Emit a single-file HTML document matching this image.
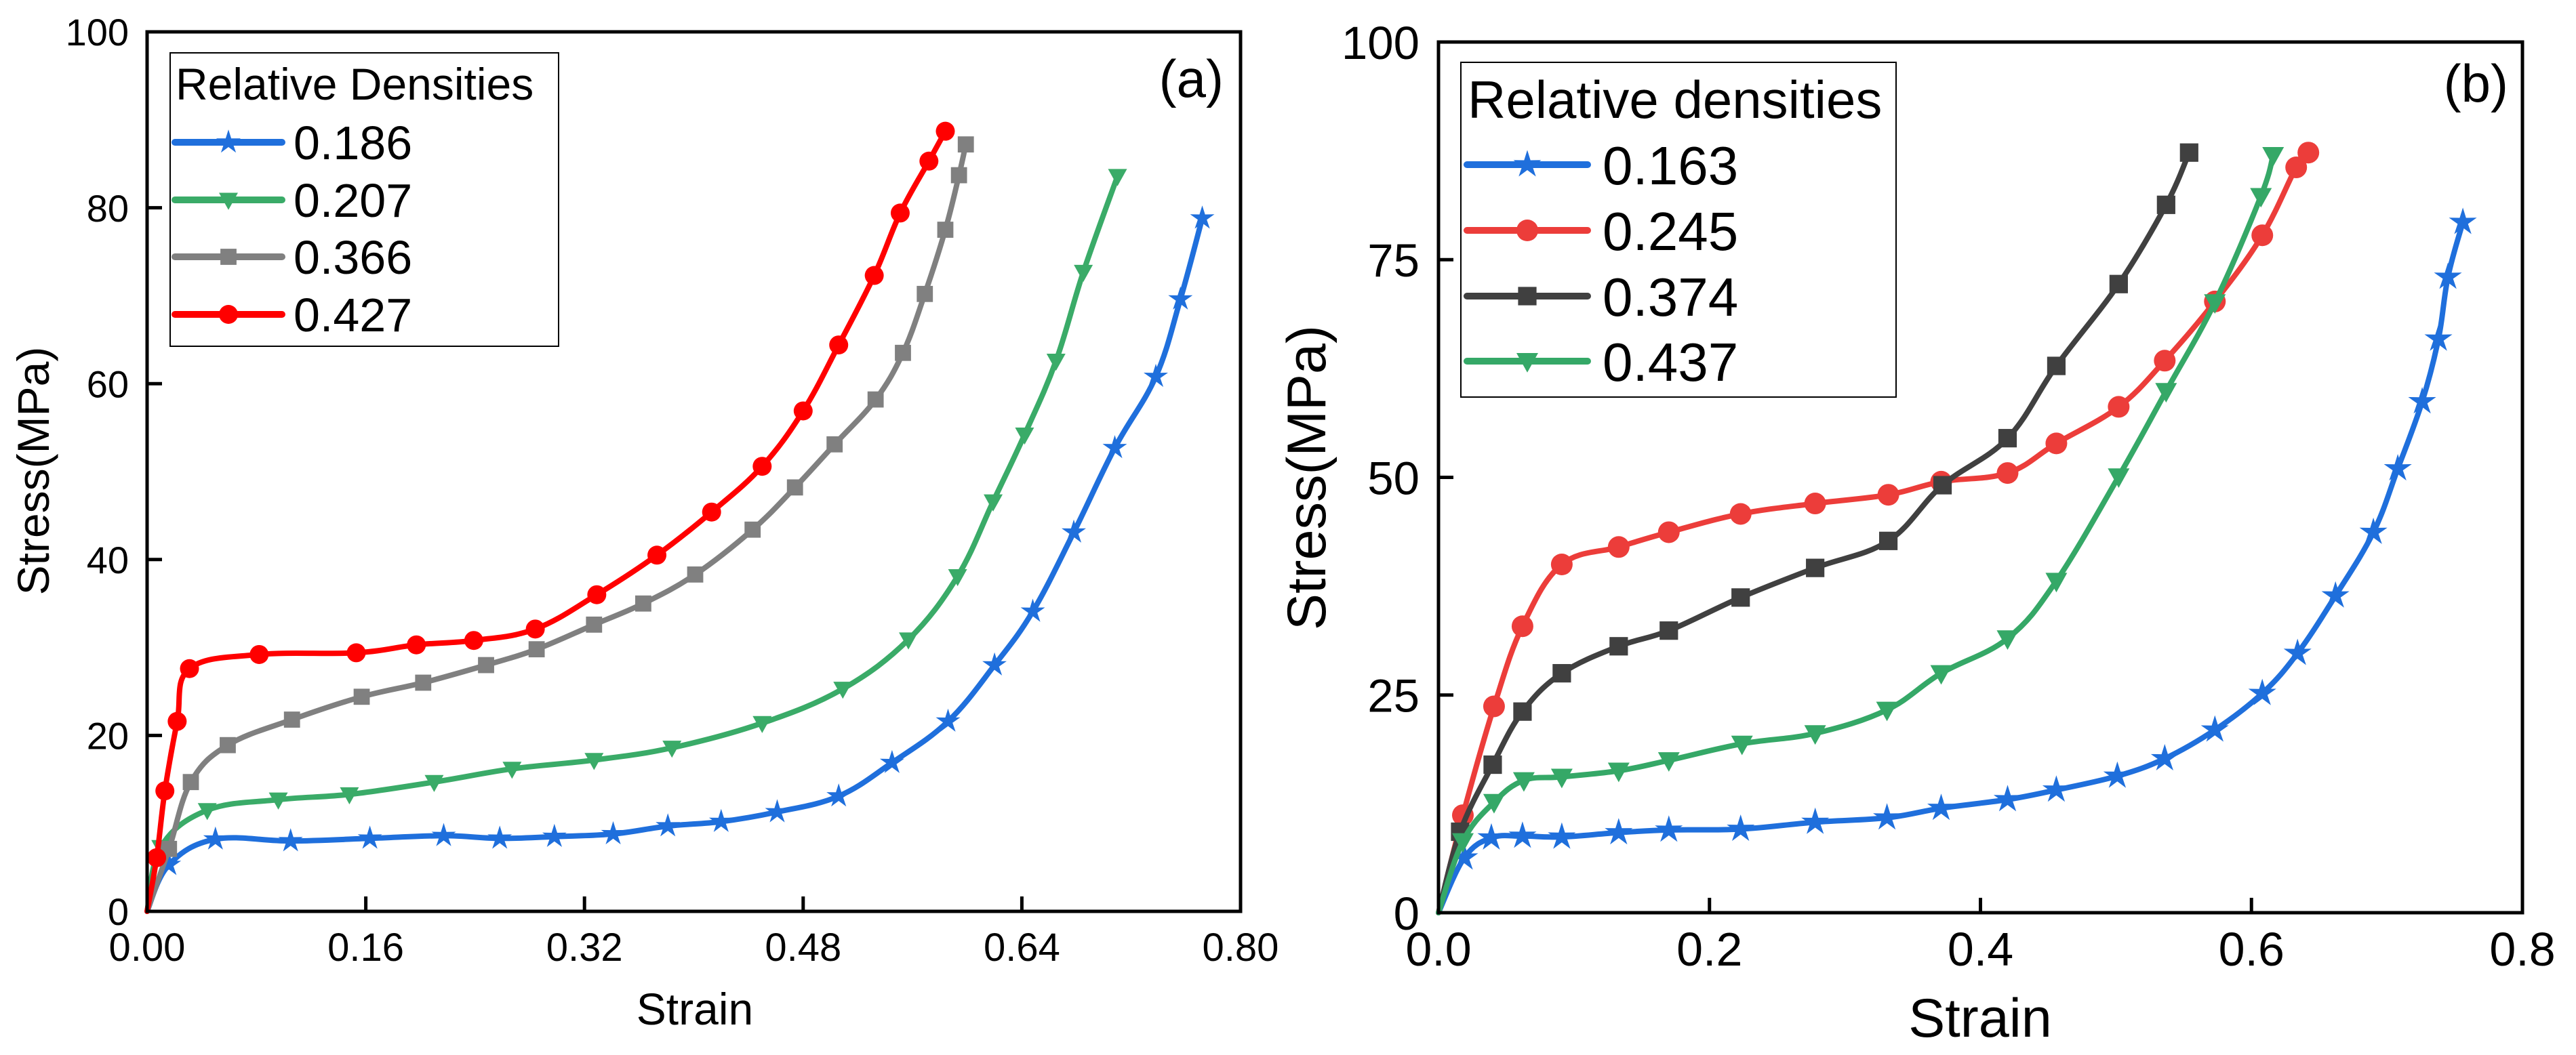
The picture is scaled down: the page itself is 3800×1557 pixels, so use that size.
<!DOCTYPE html>
<html><head><meta charset="utf-8"><style>
html,body{margin:0;padding:0;background:#fff;}
svg{display:block;font-family:"Liberation Sans",Arial,sans-serif;}
</style></head><body>
<svg id="fig" width="3800" height="1557" viewBox="0 0 3800 1557" xmlns="http://www.w3.org/2000/svg"></svg>
<script>
// ---------- Panel (a) data ----------
const aXTicks = [0, 0.16, 0.32, 0.48, 0.64, 0.80];
const aXTickLabels = ["0.00","0.16","0.32","0.48","0.64","0.80"];
const aYTicks = [0,20,40,60,80,100];
const aYTickLabels = ["0","20","40","60","80","100"];
const aSeriesNames = ["0.186","0.207","0.366","0.427"];
const a186 = [[0,0],[0.016,5.3],[0.050,8.2],[0.105,8.0],[0.163,8.3],[0.217,8.6],[0.258,8.3],[0.298,8.5],[0.341,8.8],[0.381,9.7],[0.420,10.2],[0.461,11.3],[0.506,13.1],[0.545,16.9],[0.586,21.6],[0.620,28.0],[0.648,34.1],[0.678,43.1],[0.708,52.7],[0.738,60.8],[0.756,69.6],[0.772,78.8]];
const a207 = [[0,0],[0.010,7.3],[0.044,11.5],[0.096,12.7],[0.148,13.3],[0.210,14.7],[0.267,16.2],[0.327,17.2],[0.384,18.6],[0.450,21.4],[0.509,25.3],[0.557,30.9],[0.593,38.1],[0.619,46.6],[0.642,54.2],[0.665,62.6],[0.685,72.7],[0.710,83.6]];
const a366 = [[0,0],[0.016,7.1],[0.032,14.7],[0.059,18.9],[0.106,21.8],[0.157,24.4],[0.202,26.0],[0.248,28.0],[0.285,29.8],[0.327,32.6],[0.363,35.0],[0.401,38.3],[0.443,43.4],[0.474,48.2],[0.503,53.1],[0.533,58.2],[0.553,63.5],[0.569,70.2],[0.584,77.5],[0.594,83.7],[0.599,87.2]];
const a427 = [[0,0],[0.007,6.1],[0.013,13.7],[0.022,21.6],[0.031,27.6],[0.082,29.2],[0.153,29.4],[0.197,30.3],[0.239,30.8],[0.284,32.1],[0.329,36.0],[0.373,40.5],[0.413,45.4],[0.450,50.6],[0.480,56.9],[0.506,64.4],[0.532,72.3],[0.551,79.4],[0.572,85.3],[0.584,88.7]];
// ---------- Panel (b) data ----------
const bXTicks = [0,0.2,0.4,0.6,0.8];
const bXTickLabels = ["0.0","0.2","0.4","0.6","0.8"];
const bYTicks = [0,25,50,75,100];
const bYTickLabels = ["0","25","50","75","100"];
const bSeriesNames = ["0.163","0.245","0.374","0.437"];
const b163 = [[0,0],[0.019,6.3],[0.039,8.6],[0.062,8.8],[0.091,8.7],[0.133,9.2],[0.170,9.5],[0.223,9.6],[0.278,10.4],[0.331,10.9],[0.371,12.0],[0.420,13.0],[0.456,14.1],[0.501,15.7],[0.536,17.7],[0.573,21.0],[0.608,25.2],[0.634,29.8],[0.662,36.4],[0.690,43.7],[0.708,51.0],[0.726,58.7],[0.738,65.9],[0.745,73.0],[0.756,79.3]];
const b245 = [[0,0],[0.018,11.2],[0.041,23.7],[0.062,32.9],[0.091,40.0],[0.133,42.0],[0.170,43.7],[0.223,45.8],[0.278,47.0],[0.332,48.0],[0.371,49.5],[0.420,50.5],[0.456,53.9],[0.502,58.1],[0.536,63.4],[0.573,70.2],[0.608,77.8],[0.633,85.6],[0.642,87.3]];
const b374 = [[0,0],[0.016,9.3],[0.040,17.0],[0.062,23.1],[0.091,27.5],[0.133,30.6],[0.170,32.4],[0.223,36.2],[0.278,39.6],[0.332,42.7],[0.372,49.1],[0.420,54.5],[0.456,62.8],[0.502,72.2],[0.537,81.3],[0.554,87.3]];
const b437 = [[0,0],[0.018,8.2],[0.041,12.7],[0.063,15.2],[0.091,15.6],[0.133,16.3],[0.170,17.5],[0.224,19.4],[0.278,20.6],[0.331,23.3],[0.371,27.5],[0.420,31.5],[0.456,38.1],[0.502,50.1],[0.537,59.9],[0.573,70.1],[0.607,82.3],[0.616,87.0]];

const NS="http://www.w3.org/2000/svg";
const svg=document.getElementById('fig');
function mk(tag,attrs,parent){const e=document.createElementNS(NS,tag);for(const k in attrs)e.setAttribute(k,attrs[k]);(parent||svg).appendChild(e);return e;}

function marker(g,type,cx,cy,r,color){
  let e;
  if(type==='circle'){e=mk('circle',{cx:cx,cy:cy,r:r,fill:color},g);}
  else if(type==='square'){e=mk('rect',{x:cx-r*0.85,y:cy-r*0.85,width:r*1.7,height:r*1.7,fill:color},g);}
  else if(type==='tri'){e=mk('polygon',{points:`${cx-r},${cy-r*0.75} ${cx+r},${cy-r*0.75} ${cx},${cy+r*1.05}`,fill:color},g);}
  else {let p=[];for(let i=0;i<10;i++){const ang=-Math.PI/2+i*Math.PI/5;const rr=i%2?r*0.5:r*1.35;p.push((cx+rr*Math.cos(ang)).toFixed(1)+','+(cy+rr*Math.sin(ang)).toFixed(1));}
    e=mk('polygon',{points:p.join(' '),fill:color},g);}
  
  
  return e;
}

function smoothPath(pts){
  let d='M'+pts[0][0].toFixed(1)+','+pts[0][1].toFixed(1);
  for(let i=0;i<pts.length-1;i++){
    const p0=pts[Math.max(i-1,0)],p1=pts[i],p2=pts[i+1],p3=pts[Math.min(i+2,pts.length-1)];
    const t=0.18;
    const c1=[p1[0]+(p2[0]-p0[0])*t,p1[1]+(p2[1]-p0[1])*t];
    const c2=[p2[0]-(p3[0]-p1[0])*t,p2[1]-(p3[1]-p1[1])*t];
    d+=` C${c1[0].toFixed(1)},${c1[1].toFixed(1)} ${c2[0].toFixed(1)},${c2[1].toFixed(1)} ${p2[0].toFixed(1)},${p2[1].toFixed(1)}`;
  }
  return d;
}

function drawPanel(cfg){
  const {x0,x1,y0,y1,xmax,ymax}=cfg;
  const sx=v=>x0+(v/xmax)*(x1-x0);
  const sy=v=>y0-(v/ymax)*(y0-y1);
  const g=mk('g',{});
  
  
  cfg.series.forEach((s,si)=>{
    const sg=mk('g',{},g);
    
    
    const pts=s.data.map(p=>[sx(p[0]),sy(p[1])]);
    const path=mk('path',{d:smoothPath(pts),fill:'none',stroke:s.color,'stroke-width':cfg.lw,'stroke-linejoin':'round','stroke-linecap':'round'},sg);
    
    
    s.data.forEach((p,i)=>{if(i>0)marker(sg,s.mk,sx(p[0]),sy(p[1]),cfg.mr,s.color);});
  });
  cfg.xTicks.forEach((t,i)=>{
    const x=sx(t);
    const tk=mk('line',{x1:x,y1:y0,x2:x,y2:y0-cfg.tl,stroke:'#000','stroke-width':5},g);
    
    
    const tx=mk('text',{x:x,y:cfg.xlabY,'font-size':cfg.tfs,'text-anchor':'middle'},g);
    tx.textContent=cfg.xLabels[i];
    
    
  });
  cfg.yTicks.forEach((t,i)=>{
    const y=sy(t);
    const tk=mk('line',{x1:x0,y1:y,x2:x0+cfg.tl,y2:y,stroke:'#000','stroke-width':5},g);
    
    
    const tx=mk('text',{x:cfg.ylabX,y:y+cfg.yfs*0.36,'font-size':cfg.yfs,'text-anchor':'end'},g);
    tx.textContent=cfg.yLabels[i];
    
    
  });
  const box=mk('rect',{x:x0,y:y1,width:x1-x0,height:y0-y1,fill:'none',stroke:'#000','stroke-width':5},g);
  
  
  const xt=mk('text',{x:cfg.xtX,y:cfg.xtY,'font-size':cfg.afs,'text-anchor':'middle'},g);
  xt.textContent='Strain';
  
  
  const yt=mk('text',{x:0,y:0,'font-size':cfg.afs,'text-anchor':'middle',transform:`translate(${cfg.ytX},${cfg.ytY}) rotate(-90)`},g);
  yt.textContent='Stress(MPa)';
  
  
  const pl=mk('text',{x:cfg.plX,y:cfg.plY,'font-size':cfg.plfs,'text-anchor':'end'},g);
  pl.textContent=cfg.panel;
  
  
  const L=cfg.leg;
  const lg=mk('g',{},g);
  
  
  const lb=mk('rect',{x:L.x,y:L.y,width:L.w,height:L.h,fill:'#fff',stroke:'#000','stroke-width':2},lg);
  
  
  const lt=mk('text',{x:L.x+L.tpad,y:L.ty,'font-size':L.tfs},lg);
  lt.textContent=L.title;
  
  
  cfg.series.forEach((s,si)=>{
    const y=L.rows[si];
    const eg=mk('g',{},lg);
    
    
    mk('line',{x1:L.lx0,y1:y,x2:L.lx1,y2:y,stroke:s.color,'stroke-width':cfg.lw+2,'stroke-linecap':'round'},eg);
    marker(eg,s.mk,(L.lx0+L.lx1)/2,y,cfg.mr,s.color);
    const t=mk('text',{x:L.tx,y:y+L.efs*0.36,'font-size':L.efs},eg);
    t.textContent=cfg.names[si];
  });
}

drawPanel({name:'panel-a',panel:'(a)',x0:217,x1:1830,y0:1345,y1:47,xmax:0.8,ymax:100,
  lw:8,mr:14,tl:22,tfs:58,yfs:56,xlabY:1418,ylabX:190,
  xTicks:aXTicks,xLabels:aXTickLabels,yTicks:aYTicks,yLabels:aYTickLabels,names:aSeriesNames,
  series:[{data:a186,color:'#1f6fdc',mk:'star'},{data:a207,color:'#3aab68',mk:'tri'},{data:a366,color:'#808080',mk:'square'},{data:a427,color:'#ff0000',mk:'circle'}],
  afs:66,xtX:1025,xtY:1512,ytX:72,ytY:695,plX:1805,plY:143,plfs:78,
  leg:{x:251,y:78,w:573,h:433,title:'Relative Densities',tpad:8,ty:147,tfs:66,rows:[210,295,379,464],lx0:258,lx1:416,tx:433,efs:70}});

drawPanel({name:'panel-b',panel:'(b)',x0:2122,x1:3721,y0:1347,y1:62,xmax:0.8,ymax:100,
  lw:8,mr:16,tl:22,tfs:70,yfs:69,xlabY:1425,ylabX:2094,
  xTicks:bXTicks,xLabels:bXTickLabels,yTicks:bYTicks,yLabels:bYTickLabels,names:bSeriesNames,
  series:[{data:b163,color:'#1f6fdc',mk:'star'},{data:b245,color:'#ec3d3a',mk:'circle'},{data:b374,color:'#404040',mk:'square'},{data:b437,color:'#35a867',mk:'tri'}],
  afs:81,xtX:2921,xtY:1530,ytX:1955,ytY:705,plX:3700,plY:150,plfs:78,
  leg:{x:2155,y:92,w:642,h:494,title:'Relative densities',tpad:10,ty:174,tfs:78,rows:[243,340,437,533],lx0:2164,lx1:2342,tx:2364,efs:80}});
</script>
</body></html>
